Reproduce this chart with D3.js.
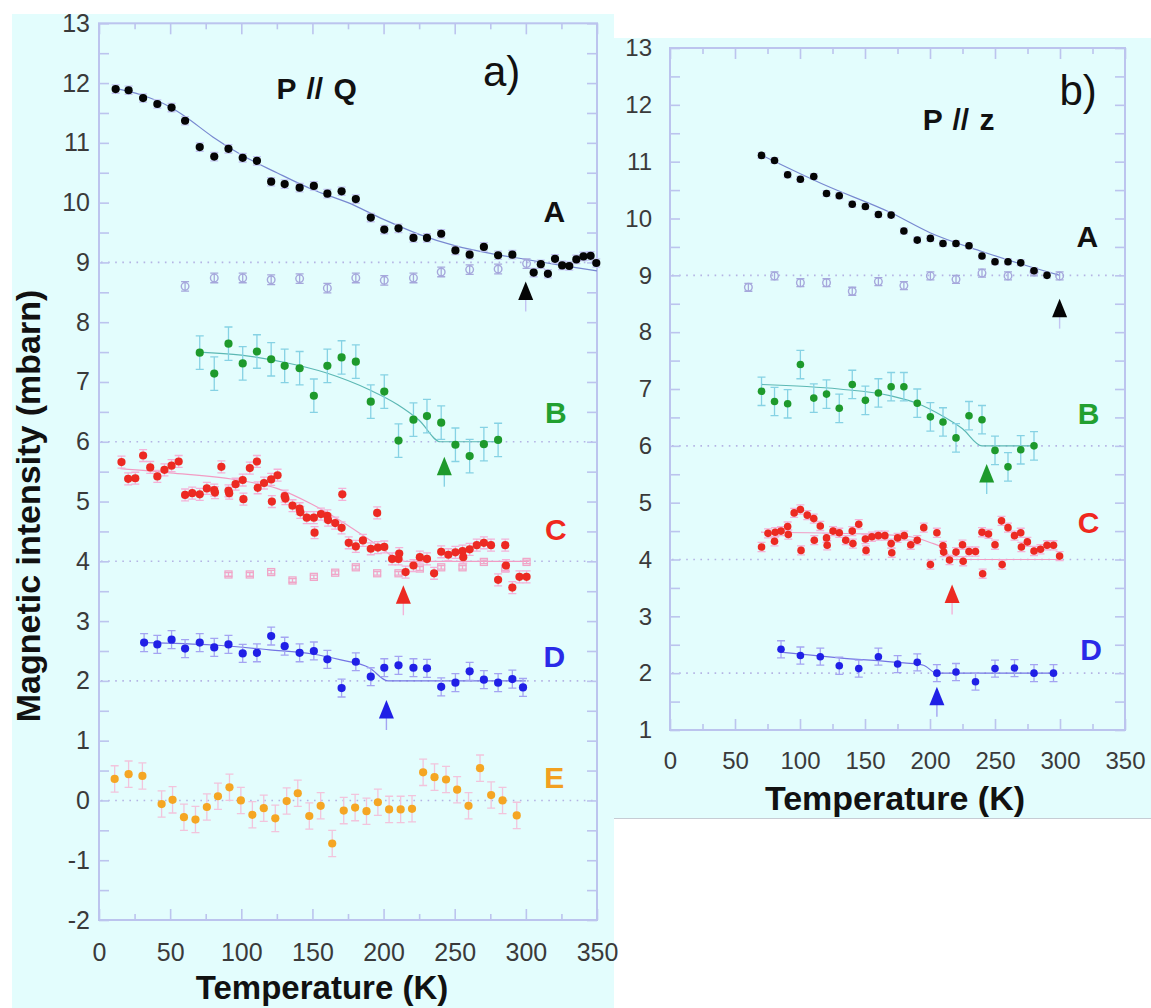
<!DOCTYPE html>
<html><head><meta charset="utf-8">
<script src="https://cdn.jsdelivr.net/npm/d3@7"></script>
<style>body{margin:0;background:#fff}svg{display:block}</style>
</head><body>
<svg id="chart" width="1151" height="1008"></svg>
<script>
// ---------------- DATA ----------------
const tempTicks = [0, 50, 100, 150, 200, 250, 300, 350];
const intensityTicksA = [-2, -1, 0, 1, 2, 3, 4, 5, 6, 7, 8, 9, 10, 11, 12, 13];
const intensityTicksB = [1, 2, 3, 4, 5, 6, 7, 8, 9, 10, 11, 12, 13];
const seriesNames = ["A", "B", "C", "D", "E"];
const baselines = [9, 6, 4, 2, 0];

// Panel a) P // Q  — [temperature K, intensity mbarn]
const a_A = [[11.7,11.90],[20.8,11.88],[31,11.75],[41,11.65],[51,11.59],[60.5,11.37],[70.8,10.93],[81,10.77],[91,10.90],[101,10.75],[111,10.70],[121,10.35],[130.5,10.31],[141,10.25],[151,10.28],[160.5,10.15],[170.5,10.19],[180.5,10.06],[191,9.75],[200.5,9.55],[210.5,9.57],[221,9.41],[230.5,9.41],[240.5,9.48],[250.5,9.20],[260.5,9.13],[270.5,9.26],[280.5,9.12],[290.5,9.13],[305.5,8.83],[310.5,8.97],[315.5,8.81],[320.5,9.06],[325.5,8.95],[330.5,8.94],[335.5,9.05],[340.5,9.10],[345.5,9.11],[349.5,8.99]];
const a_Aopen = [[60.5,8.60],[81,8.74],[101,8.74],[121,8.71],[141,8.73],[160.5,8.57],[180.5,8.74],[200.5,8.70],[221,8.74],[240.5,8.84],[260.5,8.88],[280.5,8.89],[300.5,8.98]];
const a_B = [[70.8,7.49],[81,7.14],[91,7.64],[101,7.31],[111,7.51],[121,7.38],[130.5,7.27],[141,7.23],[151,6.77],[160.5,7.27],[170.5,7.41],[180.5,7.34],[191,6.67],[200.5,6.84],[210.5,6.02],[221,6.37],[230.5,6.43],[240.5,6.32],[250.5,5.95],[260.5,5.76],[270.5,5.96],[280.5,6.03]];
const a_C = [[15.8,5.66],[20.5,5.38],[25.5,5.39],[31,5.77],[36,5.57],[41,5.42],[46,5.53],[51,5.60],[56,5.67],[60.5,5.11],[65.5,5.14],[70.8,5.12],[75.8,5.22],[81,5.19],[81.5,5.15],[86,5.58],[91,5.18],[91.5,5.14],[96,5.29],[101,5.36],[101.5,5.04],[106,5.56],[111,5.67],[111.5,5.23],[116,5.31],[121,5.37],[121.5,5.00],[125.5,5.44],[130.5,5.09],[131,5.05],[136,4.93],[141,4.88],[141.5,4.82],[146,4.73],[151,4.73],[151.5,4.48],[156,4.79],[160.5,4.76],[161,4.69],[166,4.64],[170.5,4.56],[171,5.12],[175.5,4.31],[180.5,4.25],[185.5,4.35],[191,4.21],[195.5,4.81],[196,4.23],[200.5,4.24],[206,4.04],[210.5,4.04],[211,4.13],[215.5,3.82],[221,3.93],[225.5,4.07],[230.5,4.04],[235.5,3.80],[240.5,4.16],[245.5,4.11],[250.5,4.15],[255.5,4.17],[256,4.07],[260.5,4.20],[265.5,4.27],[270.5,4.31],[275.5,4.27],[280.5,3.69],[285.5,4.27],[286,3.93],[290.5,3.56],[295.5,3.74],[300.5,3.74]];
const a_Copen = [[91,3.78],[106,3.78],[121,3.82],[136,3.68],[151,3.74],[166,3.81],[180.5,3.90],[195.5,3.80],[210.5,3.80],[225.5,3.88],[240.5,3.90],[255.5,3.90],[270.5,3.99],[285.5,3.88],[300.5,3.99]];
const a_D = [[31.7,2.64],[41,2.61],[51,2.69],[60.5,2.54],[70.8,2.64],[81,2.56],[91,2.61],[101,2.46],[111,2.47],[121,2.75],[130.5,2.58],[141,2.47],[151,2.50],[160.5,2.36],[170.5,1.88],[180.5,2.32],[191,2.07],[200.5,2.22],[210.5,2.26],[221,2.22],[230.5,2.21],[240.5,1.90],[250.5,1.97],[260.5,2.16],[270.5,2.02],[280.5,1.97],[290.5,2.03],[298,1.89]];
const a_E = [[11,0.36],[20.8,0.44],[30.5,0.41],[44,-0.06],[51.7,0.01],[59.7,-0.28],[67.8,-0.32],[75.8,-0.11],[83.6,0.07],[91.7,0.22],[99.7,0.00],[107.8,-0.24],[115.8,-0.13],[123.9,-0.30],[131.9,-0.01],[139.7,0.12],[147.8,-0.26],[155.8,-0.09],[163.9,-0.72],[172,-0.17],[180,-0.12],[188,-0.18],[196,-0.03],[203.9,-0.15],[212,-0.15],[220,-0.14],[227.8,0.47],[235.8,0.39],[243.9,0.35],[251.7,0.18],[259.7,-0.09],[267.8,0.54],[275.6,0.09],[283.6,0.00],[293.6,-0.25]];
const a_fitA = [[10,11.92],[30,11.8],[50,11.6],[60,11.45],[80,11.1],[100,10.8],[125,10.5],[150,10.22],[175,10.0],[200,9.72],[225,9.47],[250,9.28],[275,9.15],[300,9.05],[325,8.95],[350,8.86]];
const a_fitB = [[70,7.5],[100,7.45],[130,7.33],[160,7.15],[190,6.87],[210,6.62],[225,6.36],[240,6.0],[282,6.0]];
const a_fitC = [[15,5.55],[50,5.48],[100,5.35],[125,5.22],[150,4.95],[175,4.6],[195,4.28],[215,4.0],[302,4.0]];
const a_fitD = [[32,2.64],[80,2.6],[120,2.52],[150,2.45],[170,2.35],[190,2.22],[203,2.0],[300,2.0]];
const a_arrows = [[299.9,8.68],[242.7,5.75],[213.9,3.60],[202,1.68]];   // transition markers A..D (T, tip)
const a_errors = [0.07, 0.28, 0.10, 0.15, 0.22];                        // error bar half-height per series
const a_openErr = [0.08, 0.03];

// Panel b) P // z
const b_A = [[70.4,11.11],[80.4,11.02],[90.5,10.77],[100.3,10.69],[110.6,10.74],[120.4,10.44],[130.2,10.40],[140.2,10.25],[150.3,10.21],[160.3,10.07],[170.1,10.06],[179.9,9.78],[190.2,9.62],[200.3,9.65],[210,9.56],[220,9.56],[230,9.52],[240,9.34],[250,9.24],[260,9.24],[269.8,9.22],[280,9.08],[290,9.00]];
const b_Aopen = [[60.3,8.79],[80.4,8.99],[100.3,8.87],[120.4,8.87],[140.2,8.72],[160.3,8.89],[179.9,8.82],[200.3,8.99],[220,8.93],[240,9.04],[260,8.99],[280,9.06],[299.7,8.99]];
const b_B = [[70.4,6.96],[80.4,6.78],[90.5,6.74],[100.3,7.43],[110.6,6.84],[120.4,6.91],[130.2,6.66],[140.2,7.08],[150.3,6.80],[160.3,6.93],[170.1,7.04],[179.9,7.04],[190.2,6.75],[200.3,6.51],[210,6.42],[220,6.14],[230,6.53],[240,6.46],[250,5.92],[260,5.63],[269.8,5.93],[280,6.00]];
const b_C = [[70.4,4.22],[75.4,4.46],[80.4,4.32],[80.9,4.48],[85.4,4.50],[90.5,4.58],[91,4.44],[95.5,4.82],[100.3,4.88],[100.8,4.16],[105.6,4.78],[110.6,4.72],[111,4.34],[115.6,4.59],[120.4,4.38],[120.9,4.25],[125.4,4.50],[130.2,4.47],[135.2,4.34],[140.2,4.50],[140.7,4.28],[145.2,4.62],[150.3,4.36],[150.8,4.16],[155.3,4.40],[160.3,4.42],[165.3,4.42],[170.1,4.28],[170.6,4.12],[175.1,4.38],[180.2,4.42],[185.2,4.26],[190.2,4.34],[195.2,4.56],[200.3,3.91],[205.3,4.47],[210,4.24],[210.5,4.13],[215,3.99],[220,4.13],[225,4.26],[225.5,3.97],[230,4.14],[235,4.14],[240,4.48],[240.5,3.75],[245,4.45],[250,4.26],[255,4.68],[255.5,3.91],[260,4.56],[265,4.42],[269.8,4.47],[270.3,4.22],[274.9,4.31],[280,4.15],[285,4.18],[290,4.25],[295,4.25],[299.7,4.06]];
const b_D = [[85.4,2.42],[100.3,2.31],[115.6,2.29],[130.2,2.13],[145.2,2.08],[160.3,2.29],[175.1,2.16],[190.2,2.19],[205.3,2.00],[220,2.02],[235,1.85],[250,2.08],[265,2.09],[280,2.00],[295,2.00]];
const b_fitA = [[70,11.12],[120,10.58],[170,10.1],[200,9.75],[240,9.42],[270,9.2],[300,9.0]];
const b_fitB = [[70,7.08],[130,7.0],[170,6.88],[190,6.75],[210,6.52],[225,6.3],[240,6.0],[282,6.0]];
const b_fitC = [[70,4.48],[150,4.45],[185,4.4],[200,4.3],[210,4.2],[218,4.0],[300,4.0]];
const b_fitD = [[85,2.37],[130,2.27],[180,2.18],[195,2.14],[205,2.0],[295,2.0]];
const b_arrows = [[299.7,8.59],[243.6,5.68],[217,3.56],[205.3,1.76]];
const b_errors = [0.05, 0.25, 0.08, 0.15];
const b_openErr = [0.07];

// ---------------- STYLE ----------------
const FONT = '"Liberation Sans", Arial, Helvetica, sans-serif';
const BG = "#e3fdfd";
const FRAME = "#bcc4ee";
const DOT = "#b4b4e4";
const pointColor = {A:"#050505", B:"#1e9a2c", C:"#ec2a22", D:"#2020e6", E:"#f5a623"};
const labelColor = {A:"#111", B:"#22a030", C:"#f0281e", D:"#2a2ae8", E:"#f2a020"};
const errColor   = {A:"#c2c4f2", B:"#86d2e4", C:"#f4b2d8", D:"#a4a4f2", E:"#f2c4dc"};
const fitColor   = {A:"#7888d0", B:"#5cb8b4", C:"#f29cc4", D:"#7474e4"};
const openColor = "#a6a8dc", openSqColor = "#f0a6c8";

const svg = d3.select("#chart");
const fmt = d => String(d);

function panel(cfg) {
  const g = svg.append("g");
  const x = d3.scaleLinear().domain([0, 350]).range(cfg.xr);
  const y = d3.scaleLinear().domain(cfg.ydom).range(cfg.yr);
  const [x0, x1] = cfg.xr, [yb, yt] = cfg.yr;

  // dotted baselines
  g.selectAll(".base").data(cfg.baselines).join("line")
    .attr("x1", x0 + 2).attr("x2", x1 - 2)
    .attr("y1", d => y(d)).attr("y2", d => y(d))
    .attr("stroke", DOT).attr("stroke-width", 1.6).attr("stroke-dasharray", "1.6,5.5");

  // inner ticks
  const yMinor = d3.range(cfg.ydom[0], cfg.ydom[1] + 0.01, 0.5);
  const xMinor = d3.range(0, 351, 25);
  const tickStyle = sel => { sel.select(".domain").remove(); sel.selectAll("line").attr("stroke", FRAME).attr("stroke-width", 1.6); sel.selectAll("text").remove(); };
  g.append("g").attr("transform", `translate(${x0},0)`).call(d3.axisRight(y).tickValues(yMinor).tickSize(10)).call(tickStyle);
  g.append("g").attr("transform", `translate(${x1},0)`).call(d3.axisLeft(y).tickValues(yMinor).tickSize(10)).call(tickStyle);
  [yb, yt].forEach((yy, i) => {
    const ax = (i === 0 ? d3.axisTop(x) : d3.axisBottom(x)).tickValues(xMinor);
    const gg = g.append("g").attr("transform", `translate(0,${yy})`).call(ax).call(tickStyle);
    gg.selectAll("line").attr("y2", d => (i === 0 ? -1 : 1) * (d % 50 === 0 ? 11 : 6));
  });
  // frame
  g.append("rect").attr("x", x0).attr("y", yt).attr("width", x1 - x0).attr("height", yb - yt)
    .attr("fill", "none").attr("stroke", FRAME).attr("stroke-width", 2);

  // tick labels
  const lab = sel => { sel.select(".domain").remove(); sel.selectAll("line").remove();
    sel.selectAll("text").attr("font-family", FONT).attr("font-size", cfg.tickFont).attr("fill", "#3a3a3a"); };
  g.append("g").attr("transform", `translate(${x0},0)`)
    .call(d3.axisLeft(y).tickValues(cfg.yticks).tickSize(0).tickPadding(cfg.yPad).tickFormat(fmt)).call(lab);
  g.append("g").attr("transform", `translate(0,${yb})`)
    .call(d3.axisBottom(x).tickValues(tempTicks).tickSize(0).tickPadding(cfg.xPad).tickFormat(fmt)).call(lab);

  // fits
  const line = d3.line().x(d => x(d[0])).y(d => y(d[1])).curve(d3.curveMonotoneX);
  cfg.fits.forEach((f, i) => {
    g.append("path").attr("d", line(f)).attr("fill", "none")
      .attr("stroke", fitColor[seriesNames[i]]).attr("stroke-width", 1.2);
  });

  // error bars helper
  const errBars = (data, e, color) => {
    const eg = g.append("g").attr("stroke", color).attr("stroke-width", 1.3).attr("fill", "none");
    data.forEach(d => {
      const cx = x(d[0]), y1 = y(d[1] + e), y2 = y(d[1] - e);
      eg.append("path").attr("d", `M${cx},${y1}V${y2}M${cx-4},${y1}H${cx+4}M${cx-4},${y2}H${cx+4}`);
    });
  };

  // open (background) series
  errBars(cfg.openCircles, cfg.openErr[0], openColor);
  g.append("g").selectAll("circle").data(cfg.openCircles).join("circle")
    .attr("cx", d => x(d[0])).attr("cy", d => y(d[1])).attr("r", 3.8)
    .attr("fill", "none").attr("stroke", openColor).attr("stroke-width", 1.4);
  if (cfg.openSquares) {
    errBars(cfg.openSquares, cfg.openErr[1], openSqColor);
    g.append("g").selectAll("rect").data(cfg.openSquares).join("rect")
      .attr("x", d => x(d[0]) - 3.5).attr("y", d => y(d[1]) - 3.5).attr("width", 7).attr("height", 7)
      .attr("fill", "none").attr("stroke", openSqColor).attr("stroke-width", 1.3);
  }

  // series
  cfg.series.forEach((s, i) => {
    const n = seriesNames[i];
    errBars(s, cfg.errors[i], errColor[n]);
    g.append("g").selectAll("circle").data(s).join("circle")
      .attr("cx", d => x(d[0])).attr("cy", d => y(d[1])).attr("r", cfg.r)
      .attr("fill", pointColor[n]);
  });

  // transition arrows
  cfg.arrows.forEach((a, i) => {
    const n = seriesNames[i], cx = x(a[0]), ty = y(a[1]);
    g.append("line").attr("x1", cx).attr("x2", cx).attr("y1", ty + 17).attr("y2", ty + 30)
      .attr("stroke", errColor[n]).attr("stroke-width", 1.4);
    g.append("path").attr("d", `M${cx},${ty}L${cx - 7.5},${ty + 18.5}L${cx + 7.5},${ty + 18.5}Z`)
      .attr("fill", pointColor[n]);
  });

  // series letters
  cfg.letters.forEach((p, i) => {
    const n = seriesNames[i];
    g.append("text").attr("x", x(p[0])).attr("y", y(p[1])).attr("text-anchor", "middle")
      .attr("font-family", FONT).attr("font-weight", "bold").attr("font-size", 30)
      .attr("fill", labelColor[n]).text(n);
  });

  // polarization label and panel tag
  g.append("text").attr("x", x(cfg.pol[0])).attr("y", y(cfg.pol[1])).attr("text-anchor", "middle")
    .attr("font-family", FONT).attr("font-weight", "bold").attr("font-size", 30).attr("fill", "#111")
    .attr("word-spacing", 2).text(cfg.polText);
  g.append("text").attr("x", x(cfg.tag[0])).attr("y", y(cfg.tag[1])).attr("text-anchor", "middle")
    .attr("font-family", FONT).attr("font-size", 42).attr("fill", "#111").text(cfg.tagText);

  // x title
  g.append("text").attr("x", cfg.xTitle[0]).attr("y", cfg.xTitle[1]).attr("text-anchor", "middle")
    .attr("font-family", FONT).attr("font-weight", "bold").attr("font-size", cfg.xTitle[2]).attr("fill", "#111")
    .text("Temperature (K)");
  return {x, y, g};
}

// backgrounds
svg.append("rect").attr("x", 12).attr("y", 14).attr("width", 602).attr("height", 994).attr("fill", BG);
svg.append("rect").attr("x", 614).attr("y", 38).attr("width", 537).attr("height", 780).attr("fill", BG);
svg.append("line").attr("x1", 614).attr("x2", 1151).attr("y1", 818.5).attr("y2", 818.5).attr("stroke", "#c6ccd4").attr("stroke-width", 1);

panel({
  xr: [99, 597], ydom: [-2, 13], yr: [920, 23.3], yticks: intensityTicksA,
  tickFont: 25, yPad: 9, xPad: 23, r: 4.1,
  baselines: baselines,
  fits: [a_fitA, a_fitB, a_fitC, a_fitD],
  openCircles: a_Aopen, openSquares: a_Copen, openErr: a_openErr,
  series: [a_A, a_B, a_C, a_D, a_E], errors: a_errors,
  arrows: a_arrows,
  letters: [[320, 9.68], [321, 6.32], [321, 4.36], [320, 2.24], [320, 0.21]],
  pol: [153, 11.73], polText: "P // Q",
  tag: [283, 11.95], tagText: "a)",
  xTitle: [322, 999, 33]
});

panel({
  xr: [670, 1125], ydom: [1, 13], yr: [730, 48], yticks: intensityTicksB,
  tickFont: 24, yPad: 18, xPad: 22, r: 3.8,
  baselines: baselines.slice(0, 4),
  fits: [b_fitA, b_fitB, b_fitC, b_fitD],
  openCircles: b_Aopen, openErr: b_openErr,
  series: [b_A, b_B, b_C, b_D], errors: b_errors,
  arrows: b_arrows,
  letters: [[321, 9.49], [322, 6.38], [322, 4.47], [324, 2.24]],
  pol: [222, 11.56], polText: "P // z",
  tag: [314, 12.0], tagText: "b)",
  xTitle: [895, 810, 34]
});

// y-axis title (panel a)
svg.append("text").attr("transform", "translate(40,506) rotate(-90)").attr("text-anchor", "middle")
  .attr("font-family", FONT).attr("font-weight", "bold").attr("font-size", 34).attr("fill", "#111")
  .text("Magnetic intensity (mbarn)");
</script>
</body></html>
